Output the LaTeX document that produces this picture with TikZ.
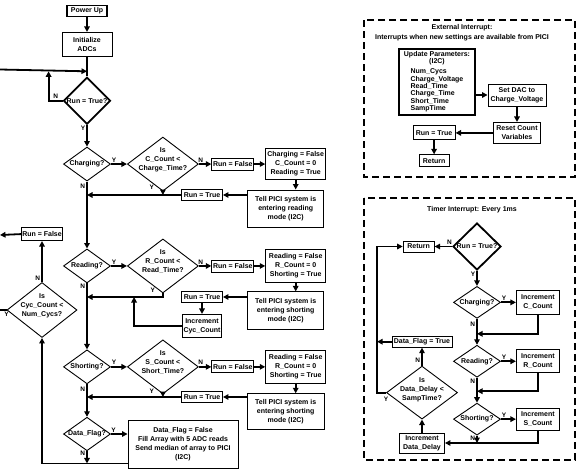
\documentclass[tikz,border=0pt]{standalone}
\usepackage{fontspec}
\setmainfont{Liberation Sans}
\usetikzlibrary{arrows.meta,positioning,shapes.geometric}
\begin{document}
\begin{tikzpicture}[x=1pt, y=-1pt, font=\fontsize{7}{9}\selectfont\bfseries,
line/.style={-{Triangle[length=5.5pt,width=5.5pt]}, line width=1.8pt},
wire/.style={line width=1.8pt},
block/.style={rectangle, draw, line width=0.9pt, align=center, inner sep=1pt},
heavy/.style={block, line width=1.8pt},
decision/.style={diamond, draw, line width=0.9pt, inner sep=0pt, aspect=1.4, minimum width=47pt, minimum height=34pt},
bigdecision/.style={diamond, draw, line width=0.9pt, inner sep=0pt, minimum width=71pt, minimum height=54pt},
runtest/.style={decision, line width=1.8pt, aspect=1, minimum height=47pt},
dtext/.style={align=center, yshift=4.5pt},
yn/.style={font=\fontsize{6.5}{6.5}\selectfont\bfseries, inner sep=1pt},
frame/.style={draw, line width=1.6pt, dash pattern=on 7pt off 4pt}]
\useasboundingbox (0,0) rectangle (582,472);
\node[heavy, minimum width=40pt, minimum height=11pt] (pwr) at (87,11) {Power Up};
\node[block, minimum width=50pt, minimum height=24pt, below=14.5pt of pwr] (init) {Initialize\\ADCs};
\node[runtest, below=19.5pt of init] (run) {Run = True?};
\coordinate (jn) at ([yshift=5pt]run.north);
\coordinate (loopin) at (0,69.5);
\node[decision, below=21.5pt of run] (chg) {Charging?};
\node[bigdecision, right=16pt of chg, label={[dtext]center:Is\\C\_Count <\\Charge\_Time?}] (ccnt) {};
\node[block, minimum width=42pt, minimum height=12pt, right=12.5pt of ccnt] (rfa) {Run = False};
\node[block, minimum width=60pt, minimum height=31pt, right=11pt of rfa] (sta) {Charging = False\\C\_Count = 0\\Reading = True};
\node[block, minimum width=76pt, minimum height=37pt, below=9.5pt of sta, xshift=-10pt] (tpa) {Tell PICI system is\\entering reading\\mode (I2C)};
\node[block, minimum width=41pt, minimum height=11pt] (rta) at (202,195) {Run = True};
\node[decision, below=67pt of chg] (rd) {Reading?};
\node[bigdecision, right=16pt of rd, label={[dtext]center:Is\\R\_Count <\\Read\_Time?}] (rcnt) {};
\node[block, minimum width=42pt, minimum height=12pt, right=12.5pt of rcnt] (rfb) {Run = False};
\node[block, minimum width=60pt, minimum height=33pt, right=11pt of rfb] (stb) {Reading = False\\R\_Count = 0\\Shorting = True};
\node[block, minimum width=76pt, minimum height=38pt, below=8.5pt of stb, xshift=-10pt] (tpb) {Tell PICI system is\\entering shorting\\mode (I2C)};
\node[block, minimum width=41pt, minimum height=11pt] (rtb) at (202,297) {Run = True};
\node[block, minimum width=38pt, minimum height=23pt, below=11pt of rtb] (inc) {Increment\\Cyc\_Count};
\node[decision, below=66pt of rd] (sh) {Shorting?};
\node[bigdecision, right=16pt of sh, label={[dtext]center:Is\\S\_Count <\\Short\_Time?}] (scnt) {};
\node[block, minimum width=42pt, minimum height=12pt, right=12.5pt of scnt] (rfc) {Run = False};
\node[block, minimum width=60pt, minimum height=33pt, right=11pt of rfc] (stc) {Reading = False\\R\_Count = 0\\Shorting = True};
\node[block, minimum width=77pt, minimum height=36pt, below=9.5pt of stc, xshift=-10pt] (tpc) {Tell PICI system is\\entering shorting\\mode (I2C)};
\node[block, minimum width=41pt, minimum height=11pt] (rtc) at (202,397) {Run = True};
\node[decision, minimum height=33pt, below=32.5pt of sh] (df) {Data\_Flag?};
\node[block, minimum width=110pt, minimum height=48pt] (send) at (183,444) {Data\_Flag = False\\Fill Array with 5 ADC reads\\Send median of array to PICI\\(I2C)};
\coordinate (sendout) at ([yshift=5pt]send.south west);
\node[bigdecision, minimum width=70pt, minimum height=55pt, label={[dtext]center:Is\\Cyc\_Count <\\Num\_Cycs?}] (cyc) at (42,310) {};
\node[block, minimum width=41pt, minimum height=13pt, above=41pt of cyc] (rfz) {Run = False};
\coordinate (rfout) at (0,235);
\coordinate (cycout) at (0,310);
\draw[line] (pwr) -- (init);
\draw[wire] (init) -- (run);
\draw[line] (loopin) -- (jn);
\draw[line] (run.west) -- node[yn,above]{N} ++(-14pt,0) coordinate (nl) -- (nl |- jn);
\draw[line] (run) -- node[yn,left,pos=0.15]{Y} (chg);
\draw[line] (chg) -- node[yn,above,pos=0.2]{Y} (ccnt);
\draw[line] (ccnt) -- node[yn,above,pos=0.15]{N} (rfa);
\draw[line] (rfa) -- (sta);
\draw[line] (sta.south) -- (sta.south |- tpa.north);
\draw[line] (tpa.west |- rta) -- (rta);
\draw[line] (rta) -- (rta -| chg);
\draw[line] (ccnt.south) -- node[yn,pos=0,xshift=-11pt,yshift=4pt]{Y} (ccnt.south |- rta);
\draw[line] (chg) -- node[yn,left,pos=0.07]{N} (rd);
\draw[line] (rd) -- node[yn,above,pos=0.2]{Y} (rcnt);
\draw[line] (rcnt) -- node[yn,above,pos=0.15]{N} (rfb);
\draw[line] (rfb) -- (stb);
\draw[line] (stb.south) -- (stb.south |- tpb.north);
\draw[line] (tpb.west |- rtb) -- (rtb);
\draw[line] (rtb) -- (inc);
\draw[line] (rcnt.south) -- node[yn,pos=0,xshift=-10pt,yshift=3pt]{Y} (rcnt.south |- rtb) -- (rtb -| rd);
\draw[line] (inc.west) -- ++(-48pt,0) coordinate (ib) -- (ib |- rtb);
\draw[line] (rd) -- node[yn,left,pos=0.05]{N} (sh);
\draw[line] (sh) -- node[yn,above,pos=0.2]{Y} (scnt);
\draw[line] (scnt) -- node[yn,above,pos=0.15]{N} (rfc);
\draw[line] (rfc) -- (stc);
\draw[line] (stc.south) -- (stc.south |- tpc.north);
\draw[line] (tpc.west |- rtc) -- (rtc);
\draw[line] (rtc) -- (rtc -| sh);
\draw[line] (scnt.south) -- node[yn,pos=0,xshift=-11pt,yshift=3pt]{Y} (scnt.south |- rtc);
\draw[line] (sh) -- node[yn,left,pos=0.15]{N} (df);
\draw[line] (df.east) -- node[yn,above,pos=0.15]{Y} (df.east -| send.west);
\draw[line] (df.south) -- node[yn,left,pos=0.2]{N} (df.south |- sendout);
\draw[line] (sendout) -| (cyc.south);
\draw[line] (cyc.north) -- node[yn,left,pos=0.1]{N} (rfz.south);
\draw[line] (rfz.west) -- (rfout);
\draw[wire] (cyc.west) -- node[yn,below,pos=0]{Y} (cycout);
\draw[frame] (364,20) rectangle (575,177);
\node[align=center, font=\fontsize{7}{10}\selectfont\bfseries] (exttitle) at (462,33) {External Interrupt:\\Interrupts when new settings are available from PICI};
\node[heavy, minimum width=76pt, minimum height=66pt, font=\fontsize{7}{7.3}\selectfont\bfseries] (upd) at (437,82) {Update Parameters:\\(I2C)\\[3pt]\begin{tabular}[t]{@{}l@{}}Num\_Cycs\\Charge\_Voltage\\Read\_Time\\Charge\_Time\\Short\_Time\\SampTime\end{tabular}};
\node[block, minimum width=58pt, minimum height=22pt] (dac) at (517,95) {Set DAC to\\Charge\_Voltage};
\node[block, minimum width=47pt, minimum height=21pt, below=15.5pt of dac] (rst) {Reset Count\\Variables};
\node[block, minimum width=42pt, minimum height=14pt, left=37.5pt of rst] (ert) {Run = True};
\node[block, minimum width=30pt, minimum height=12pt, below=14pt of ert] (eret) {Return};
\draw[line] (upd.east |- dac) -- (dac);
\draw[line] (dac) -- (rst);
\draw[line] (rst) -- (ert);
\draw[line] (ert) -- (eret);
\draw[frame] (364,198) rectangle (575,460);
\node (timtitle) at (472,210) {Timer Interrupt: Every 1ms};
\node[runtest, minimum width=48pt] (trun) at (477,246.5) {Run = True?};
\node[block, minimum width=31pt, minimum height=11pt, left=17.5pt of trun] (tret) {Return};
\node[decision, minimum height=32pt, below=15pt of trun] (tchg) {Charging?};
\node[block, minimum width=43pt, minimum height=24pt, right=15pt of tchg] (ic) {Increment\\C\_Count};
\node[decision, minimum height=32pt, below=26pt of tchg] (trd) {Reading?};
\node[block, minimum width=43pt, minimum height=23pt, right=15pt of trd] (ir) {Increment\\R\_Count};
\node[decision, minimum height=32pt, below=25pt of trd] (tsh) {Shorting?};
\node[block, minimum width=43pt, minimum height=22pt, right=15pt of tsh] (isc) {Increment\\S\_Count};
\node[block, minimum width=45pt, minimum height=20pt] (idd) at (422,443) {Increment\\Data\_Delay};
\node[bigdecision, minimum height=53pt, above=13pt of idd, label={[dtext,yshift=-1.5pt]center:Is\\Data\_Delay <\\SampTime?}] (ddl) {};
\node[block, minimum width=60pt, minimum height=11pt, above=18pt of ddl] (dft) {Data\_Flag = True};
\draw[line] (trun) -- node[yn,above,pos=0.15]{N} (tret);
\draw[line] (trun) -- node[yn,left,pos=0.2]{Y} (tchg);
\draw[line] (tchg) -- node[yn,above,pos=0.2]{Y} (ic);
\draw[line] (tchg) -- node[yn,left,pos=0.2]{N} (trd);
\draw[line] (ic.south) -- ++(0,-19pt) coordinate (icb) -- (icb -| trd);
\draw[line] (trd) -- node[yn,above,pos=0.2]{Y} (ir);
\draw[line] (trd) -- node[yn,left,pos=0.15]{N} (tsh);
\draw[line] (ir.south) -- ++(0,-18pt) coordinate (irb) -- (irb -| tsh);
\draw[line] (tsh) -- node[yn,above,pos=0.2]{Y} (isc);
\draw[line] (isc.south) |- (idd.east);
\draw[line] (tsh.south) -- node[yn,left,pos=0.35]{N} (tsh.south |- idd.east);
\draw[line] (idd) -- (ddl);
\draw[line] (ddl) -- node[yn,left,pos=0.3]{N} (dft);
\draw[line] (ddl.west) -- node[yn,below=3pt,pos=0]{Y} ++(-9pt,0) coordinate (dl) -- (dl |- tret) -- (tret);
\draw[line] (dft.west) -- (dft.west -| dl);
\end{tikzpicture}
\end{document}
